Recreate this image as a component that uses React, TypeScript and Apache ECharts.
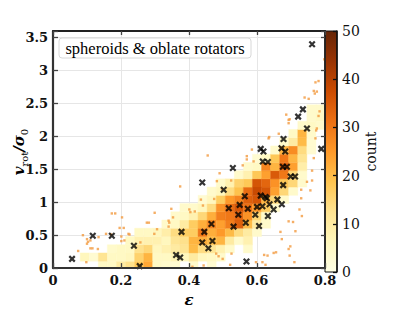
import React, { useEffect, useRef } from 'react';
import * as echarts from 'echarts';

// ---- binning of the 2D histogram ----
const xBinWidth = 0.8 / 30;
const yBinStart = -0.02;
const yBinHeight = 0.125;

// first column index of each row, then counts for consecutive columns
const heatRowStart = [5, 3, 6, 8, 9, 12, 13, 14, 16, 17, 18, 20, 21, 22, 24, 25, 26, 27, 28, 28];
const heatRowValues = [
  [5, 5, 10, 13, 18, 23, 5, 4, 3, 0, 4, 0, 3],
  [6, 3, 12, 5, 5, 6, 16, 21, 5, 5, 7, 6, 10, 6, 5, 4],
  [4, 5, 5, 13, 15, 6, 8, 10, 12, 20, 14, 12, 8, 4, 0, 4],
  [5, 8, 8, 8, 6, 12, 13, 21, 22, 20, 21, 10, 4, 8],
  [5, 5, 6, 9, 14, 17, 17, 30, 22, 25, 20, 14, 10, 4],
  [4, 5, 10, 17, 22, 28, 24, 29, 34, 20, 10, 4],
  [4, 5, 8, 15, 22, 29, 30, 33, 26, 15, 4],
  [4, 4, 6, 14, 26, 32, 36, 31, 25, 17, 4],
  [3, 6, 17, 25, 28, 34, 36, 21, 15, 4],
  [4, 6, 14, 19, 32, 38, 36, 24, 15, 4],
  [4, 8, 16, 18, 36, 33, 26, 18, 15, 4],
  [4, 8, 18, 24, 35, 30, 15, 4],
  [4, 5, 28, 21, 33, 24, 9],
  [3, 5, 18, 30, 21, 12],
  [4, 21, 27, 14, 3],
  [4, 10, 20, 3],
  [5, 21, 4],
  [4, 5, 4],
  [4, 5],
  [4, 4],
];

// sparse points (orange dots)
const sparsePoints: number[][] = [
  [0.173, 0.83], [0.183, 0.83], [0.203, 0.77], [0.374, 1.24], [0.299, 0.84], [0.348, 0.9], [0.353, 0.77],
  [0.34, 0.72], [0.342, 0.69], [0.34, 0.63], [0.404, 0.85], [0.196, 0.61], [0.208, 0.61], [0.276, 0.69],
  [0.282, 0.69], [0.306, 0.59], [0.298, 0.52], [0.222, 0.52], [0.225, 0.51], [0.171, 0.51], [0.201, 0.48],
  [0.201, 0.41], [0.21, 0.42], [0.088, 0.5], [0.134, 0.47], [0.1, 0.44], [0.1, 0.37], [0.11, 0.42],
  [0.11, 0.3], [0.116, 0.3], [0.132, 0.29], [0.074, 0.26], [0.098, 0.09], [0.257, 0.39], [0.156, 0.52],
  [0.103, 0.4], [0.401, 0.89], [0.417, 0.86], [0.435, 1.04], [0.441, 0.95], [0.455, 1.71], [0.41, 0.02],
  [0.482, 1.32], [0.497, 1.2], [0.487, 0.18], [0.499, 0.14], [0.521, 0.05], [0.525, 0.22], [0.443, 0.04],
  [0.48, 0.22], [0.693, 2.25], [0.693, 2.2], [0.664, 2.04], [0.774, 2.09], [0.767, 1.67], [0.762, 1.48],
  [0.747, 1.31], [0.73, 1.19], [0.73, 1.06], [0.725, 0.89], [0.732, 0.79], [0.693, 0.71], [0.706, 0.7],
  [0.713, 0.56], [0.669, 0.55], [0.693, 0.29], [0.656, 0.24], [0.649, 0.23], [0.631, 0.19], [0.616, 0.09],
  [0.625, 0.05], [0.71, 0.09], [0.673, 0.44], [0.585, 1.8], [0.57, 1.7], [0.57, 1.65], [0.558, 1.56],
  [0.49, 1.44], [0.597, 0.09], [0.621, 0.2], [0.798, 3.17], [0.772, 2.82], [0.781, 2.84], [0.767, 2.69],
  [0.776, 2.68], [0.77, 2.65], [0.74, 2.59], [0.752, 2.57], [0.784, 2.38], [0.634, 1.97], [0.772, 1.97],
  [0.686, 2.33], [0.696, 2.26], [0.781, 2.31], [0.636, 1.99], [0.776, 2.12], [0.698, 0.33], [0.696, 0.19],
  [0.757, 1.18], [0.762, 1.33], [0.59, 1.62], [0.524, 1.33], [0.474, 1.05],
];

// highlighted objects (black crosses)
const crossPoints: number[][] = [
  [0.056, 0.14], [0.117, 0.49], [0.173, 0.49], [0.238, 0.34], [0.255, 0.03], [0.362, 0.2], [0.374, 0.16],
  [0.378, 0.55], [0.439, 1.3], [0.445, 0.55], [0.439, 0.39], [0.457, 0.3], [0.747, 2.12], [0.678, 1.96],
  [0.789, 1.81], [0.611, 1.81], [0.619, 1.77], [0.672, 1.82], [0.683, 1.77], [0.617, 1.62], [0.632, 1.61],
  [0.529, 1.52], [0.676, 1.54], [0.688, 1.54], [0.699, 1.39], [0.712, 1.39], [0.677, 1.26], [0.502, 1.19],
  [0.611, 1.1], [0.625, 1.08], [0.629, 1.06], [0.564, 1.09], [0.66, 1.04], [0.673, 0.97], [0.549, 0.96],
  [0.517, 0.91], [0.573, 0.9], [0.6, 0.93], [0.616, 0.94], [0.637, 0.97], [0.649, 0.89], [0.595, 0.81],
  [0.632, 0.79], [0.545, 0.81], [0.567, 0.69], [0.606, 0.64], [0.531, 0.63], [0.466, 0.67], [0.469, 0.41],
  [0.569, 0.1], [0.762, 3.4], [0.735, 2.41], [0.721, 2.3],
];

const countMin = 0;
const countMax = 50;
const ylOrBr = ['#ffffe5', '#fff7bc', '#fee391', '#fec44f', '#fe9929', '#ec7014', '#cc4c02', '#993404', '#662506'];

const serif = 'DejaVu Serif';
const legendFont = 'Liberation Serif';

export default function App() {
  const ref = useRef<HTMLDivElement>(null);

  useEffect(() => {
    if (!ref.current) return;
    const chart = echarts.init(ref.current, undefined, { renderer: 'svg' });

    const heatData: number[][] = [];
    heatRowValues.forEach((vals, j) => {
      const y0 = Math.max(0, yBinStart + j * yBinHeight);
      const y1 = yBinStart + (j + 1) * yBinHeight;
      vals.forEach((c, k) => {
        if (c <= 0) return;
        const i = heatRowStart[j] + k;
        heatData.push([i * xBinWidth, y0, (i + 1) * xBinWidth, y1, c]);
      });
    });

    const tickStyle = { color: '#444', width: 1.3 };
    const frameLine = (w: number, c: string) => ({ show: true, onZero: false, lineStyle: { color: c, width: w } });
    const labelStyle = { fontFamily: serif, fontSize: 13, fontWeight: 'bold' as const, color: '#111' };

    const option: any = {
      animation: false,
      backgroundColor: '#ffffff',
      grid: [
        { left: 53, top: 31, width: 272, height: 241 },
        { left: 325, top: 31, width: 12, height: 241 },
      ],
      visualMap: [
        {
          type: 'continuous', show: false, seriesIndex: 0, dimension: 4,
          min: countMin, max: countMax, inRange: { color: ylOrBr },
        },
      ],
      xAxis: [
        {
          gridIndex: 0, type: 'value', min: 0, max: 0.8, interval: 0.2, position: 'bottom', z: 0,
          axisLine: { show: false }, axisTick: { show: false },
          axisLabel: { ...labelStyle, margin: 6 },
          splitLine: { show: true, lineStyle: { color: '#e6e6e6', width: 1 } },
          name: 'ε', nameLocation: 'middle', nameGap: 20,
          nameTextStyle: { fontFamily: serif, fontStyle: 'italic', fontWeight: 'bold', fontSize: 15, color: '#000' },
        },
        {
          gridIndex: 0, type: 'value', min: 0, max: 0.8, interval: 0.2, position: 'bottom', z: 10,
          axisLine: frameLine(2, '#333'),
          axisTick: { show: true, inside: true, length: 5, lineStyle: tickStyle },
          axisLabel: { show: false }, splitLine: { show: false },
        },
        {
          gridIndex: 0, type: 'value', min: 0, max: 0.8, interval: 0.2, position: 'top', z: 10,
          axisLine: frameLine(1.8, '#222'),
          axisTick: { show: true, inside: true, length: 4, lineStyle: tickStyle },
          axisLabel: { show: false }, splitLine: { show: false },
        },
        { gridIndex: 1, type: 'value', min: 0, max: 1, show: false },
      ],
      yAxis: [
        {
          gridIndex: 0, type: 'value', min: 0, max: 3.6, interval: 0.5, position: 'left', z: 0,
          axisLine: { show: false }, axisTick: { show: false },
          axisLabel: { ...labelStyle, margin: 5, showMaxLabel: false },
          splitLine: { show: true, lineStyle: { color: '#e6e6e6', width: 1 } },
        },
        {
          gridIndex: 0, type: 'value', min: 0, max: 3.6, interval: 0.5, position: 'left', z: 10,
          axisLine: frameLine(2.2, '#333'),
          axisTick: { show: true, inside: true, length: 5, lineStyle: tickStyle },
          axisLabel: { show: false }, splitLine: { show: false },
        },
        {
          gridIndex: 0, type: 'value', min: 0, max: 3.6, interval: 0.5, position: 'right', z: 10,
          axisLine: frameLine(1.8, '#222'),
          axisTick: { show: true, inside: true, length: 4, lineStyle: tickStyle },
          axisLabel: { show: false }, splitLine: { show: false },
        },
        {
          gridIndex: 1, type: 'value', min: countMin, max: countMax, interval: 10, position: 'right', z: 10,
          axisLine: frameLine(1.5, '#111'),
          axisTick: { show: true, inside: true, length: 4, lineStyle: { color: '#111', width: 1.3 } },
          axisLabel: { ...labelStyle, fontWeight: 'normal', fontSize: 14, margin: 5 },
          splitLine: { show: false },
          name: 'count', nameLocation: 'middle', nameRotate: 90, nameGap: 24,
          nameTextStyle: { fontFamily: serif, fontSize: 14, color: '#111' },
        },
      ],
      series: [
        {
          type: 'custom', xAxisIndex: 0, yAxisIndex: 0, z: 2,
          encode: { x: [0, 2], y: [1, 3] },
          data: heatData,
          renderItem: (params: any, api: any) => {
            const p0 = api.coord([api.value(0), api.value(1)]);
            const p1 = api.coord([api.value(2), api.value(3)]);
            const color = api.visual('color');
            return {
              type: 'rect',
              shape: { x: p0[0], y: p1[1], width: p1[0] - p0[0], height: p0[1] - p1[1] },
              style: { fill: color, stroke: color, lineWidth: 0.4 },
            };
          },
        },
        {
          type: 'scatter', xAxisIndex: 0, yAxisIndex: 0, z: 3,
          symbol: 'rect', symbolSize: 2.4,
          itemStyle: { color: '#f39a3e' },
          data: sparsePoints,
        },
        {
          type: 'scatter', xAxisIndex: 0, yAxisIndex: 0, z: 4,
          symbol: 'path://M0,0L10,10M10,0L0,10', symbolSize: 5.5,
          itemStyle: { color: '#000', borderColor: '#000', borderWidth: 2.2 },
          data: crossPoints,
        },
        {
          type: 'custom', xAxisIndex: 3, yAxisIndex: 3, z: 2,
          data: [[0, countMin, 1, countMax]],
          renderItem: (params: any, api: any) => {
            const p0 = api.coord([api.value(0), api.value(1)]);
            const p1 = api.coord([api.value(2), api.value(3)]);
            return {
              type: 'rect',
              shape: { x: p0[0], y: p1[1], width: p1[0] - p0[0], height: p0[1] - p1[1] },
              style: {
                fill: {
                  type: 'linear', x: 0, y: 1, x2: 0, y2: 0,
                  colorStops: ylOrBr.map((c, i) => ({ offset: i / (ylOrBr.length - 1), color: c })),
                },
                stroke: '#111', lineWidth: 1,
              },
            };
          },
        },
      ],
      graphic: {
        elements: [
          {
            type: 'rect', z: 100,
            shape: { x: 59, y: 38, width: 192, height: 20, r: 3 },
            style: { fill: 'rgba(255,255,255,0.85)', stroke: '#d8d8d8', lineWidth: 1 },
          },
          {
            type: 'text', z: 101, x: 155, y: 48,
            style: {
              text: 'spheroids & oblate rotators', fill: '#000',
              fontFamily: legendFont, fontSize: 16.5, align: 'center', verticalAlign: 'middle',
            },
          },
          {
            type: 'text', z: 101, x: 19, y: 152, rotation: Math.PI / 2,
            style: {
              text: '{i|v}{s|rot}{i|/σ}{s|0}', fill: '#000',
              align: 'center', verticalAlign: 'middle',
              rich: {
                i: { fontFamily: serif, fontStyle: 'italic', fontWeight: 'bold', fontSize: 15, lineHeight: 20, fill: '#000' },
                s: { fontFamily: serif, fontSize: 10, lineHeight: 10, verticalAlign: 'bottom', fill: '#000' },
              },
            },
          },
        ],
      },
    };

    chart.setOption(option);
    return () => chart.dispose();
  }, []);

  return (
    <div
      ref={ref}
      style={{ position: 'absolute', left: 0, top: 0, width: 415, height: 312, background: '#fff' }}
    />
  );
}
